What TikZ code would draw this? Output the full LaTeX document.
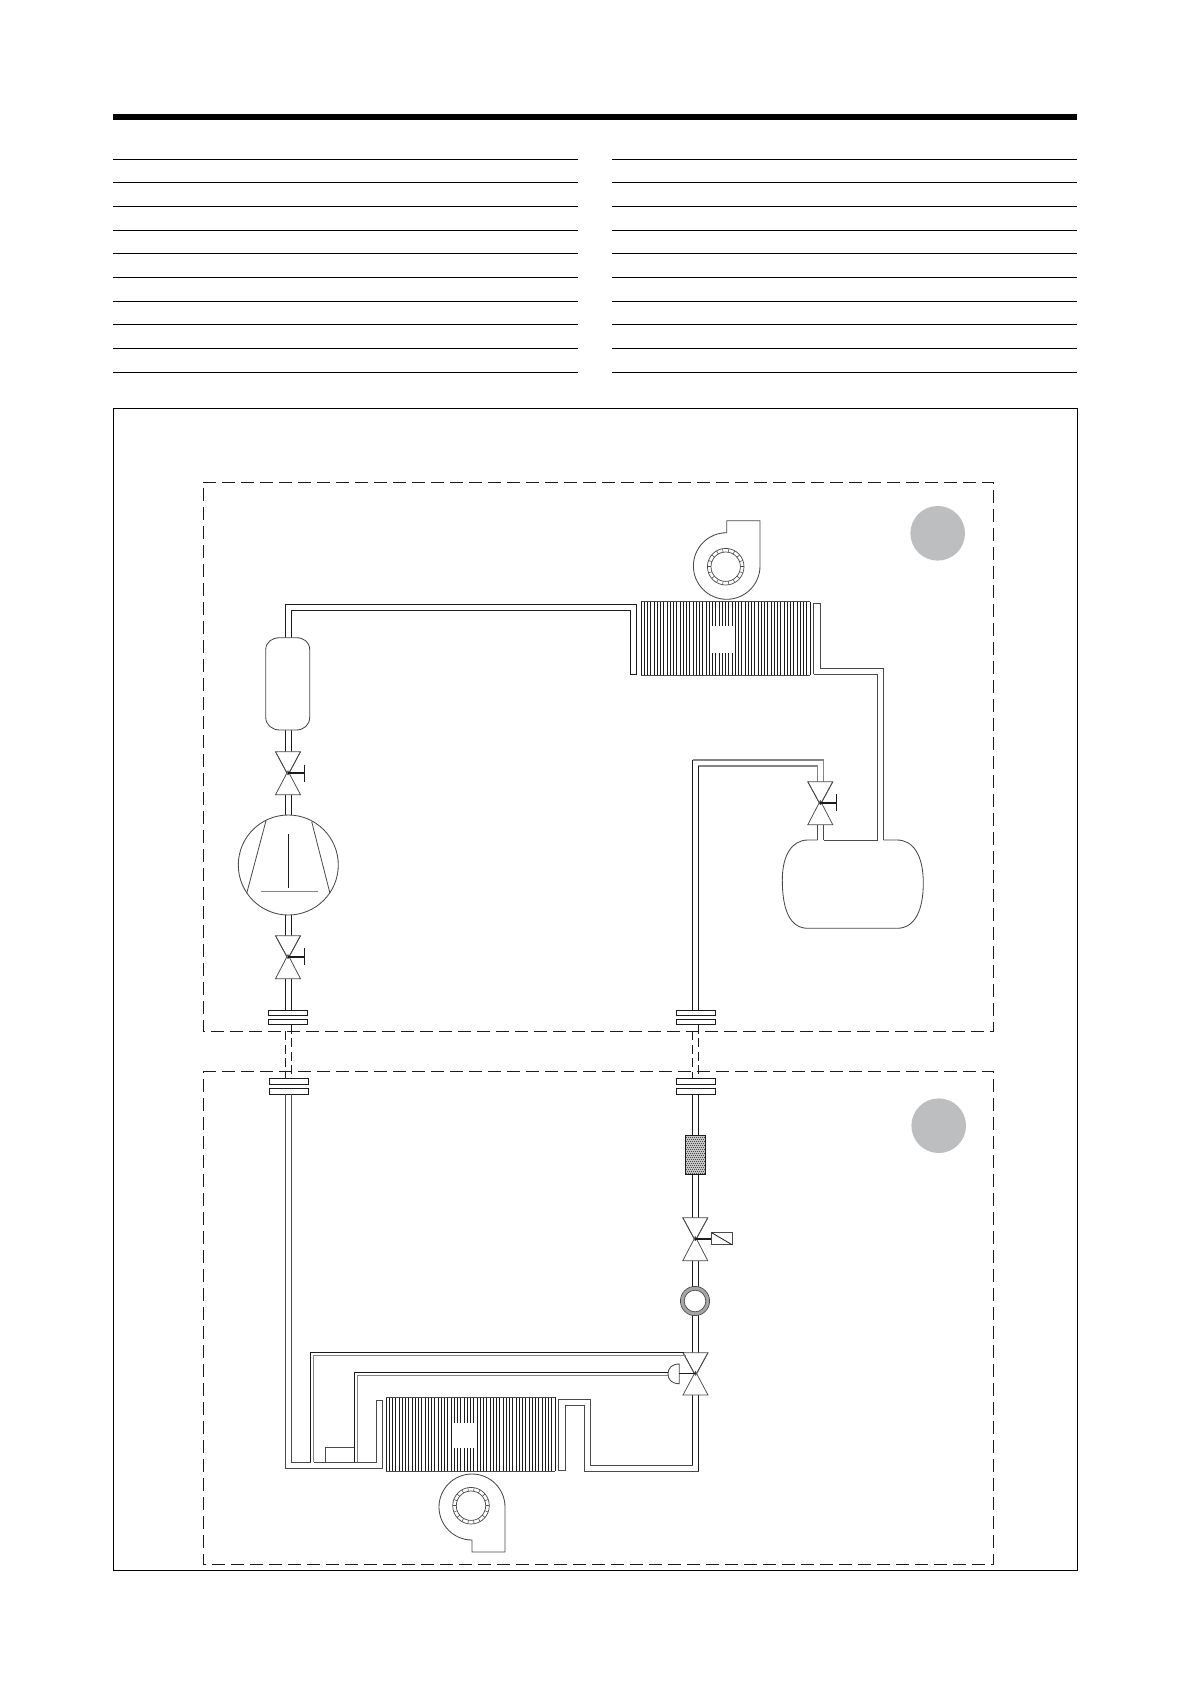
\documentclass[tikz,border=0pt]{standalone}
\definecolor{ink}{HTML}{1C1C1C}
\definecolor{softink}{HTML}{4A4A4A}
\definecolor{midgray}{HTML}{858585}
\definecolor{ringgray}{HTML}{A6A6A6}
\definecolor{zonegray}{HTML}{BCBEC0}
\tikzset{
  tube/.style={draw=ink,line width=0.85pt,line join=miter},
  softtube/.style={draw=softink,line width=0.85pt,line join=miter},
  paletube/.style={draw=midgray,line width=1.05pt,line join=miter},
  thin part/.style={draw=softink,line width=0.75pt},
  zone/.style={draw=ink,line width=1.15pt,dash pattern=on 12.8pt off 6.2pt},
  rulerline/.style={draw=black,line width=1pt},
  flangeplate/.style={draw=ink,line width=0.9pt,fill=white},
  handle/.style={draw=ink,line width=1.9pt},
  stick/.style={draw=ink,line width=0.95pt,dash pattern=on 9pt off 4.5pt}
}
% valve: cx, top, mid, bottom
\newcommand{\valvebody}[4]{%
  \draw[thin part,fill=white,line join=miter] (#1-12.5,#2) -- (#1+12.5,#2) -- (#1,#3+2) -- cycle;
  \draw[thin part,fill=white,line join=miter] (#1-12.5,#4) -- (#1+12.5,#4) -- (#1,#3-2) -- cycle;
  \draw[thin part] (#1-12.5,#2) -- (#1,#3+2) (#1+12.5,#2) -- (#1,#3+2);
}
% hand wheel: cx, mid, end x
\newcommand{\valvehandle}[3]{%
  \draw[handle] (#1,#2) -- (#3,#2);
  \draw[draw=ink,line width=1.1pt] (#3,#2-8.5) -- (#3,#2+8.5);
}
% impeller: cx, cy
\newcommand{\impeller}[2]{%
  \draw[softtube,line width=0.7pt] (#1,#2) circle[radius=18.3];
  \draw[softtube,line width=0.7pt] (#1,#2) circle[radius=14.7];
  \foreach \ang in {0,20,...,340}
    \draw[softink,line width=0.55pt] ({#1+14.7*cos(\ang)},{#2+14.7*sin(\ang)}) -- ({#1+18.3*cos(\ang)},{#2+18.3*sin(\ang)});
}
% coil: x0, y0, x1, y1, hole x0, hole y0, hole x1, hole y1
\newcommand{\coilblock}[8]{%
  \foreach \k in {0,...,52}
    \draw[draw=ink,line width=0.72pt] ({#1+\k*(#3-#1)/52},#2) -- ({#1+\k*(#3-#1)/52},#4);
  \fill[white] (#5,#6) rectangle (#7,#8);
  \draw[softink,line width=0.85pt] (#1,#2) -- (#3,#2) (#1,#4) -- (#3,#4);
}
\begin{document}
\begin{tikzpicture}[x=1pt,y=-1pt]
\useasboundingbox (0,0) rectangle (1190,1684);
\fill[white] (0,0) rectangle (1190,1684);
% header
\fill[black] (113,114) rectangle (1077,120);
\foreach \yy in {159.4,182.4,206.4,230.4,253.4,277.4,301.4,324.4,348.4,372.4}{
  \draw[rulerline] (113,\yy) -- (577.7,\yy);
  \draw[rulerline] (612,\yy) -- (1077,\yy);
}
% frame
\draw[draw=black,line width=1.1pt] (113.5,408.5) rectangle (1077.3,1570.3);
% zones
\draw[zone] (203.3,482.3) -- (993.7,482.3) -- (993.7,1031.3) -- (203.3,1031.3) -- cycle;
\draw[zone] (203.3,1071.3) -- (993.7,1071.3) -- (993.7,1564.3) -- (203.3,1564.3) -- cycle;
\fill[zonegray] (937.7,533.3) circle[radius=27.3];
\fill[zonegray] (938.7,1125.7) circle[radius=27.3];

% ---------- upper unit: hot gas line
\draw[tube] (285.3,637.7) -- (285.3,604.3) -- (636.7,604.3) -- (636.7,674.3) -- (630.7,674.3) -- (630.7,610.3) -- (291.3,610.3) -- (291.3,637.7);
\draw[tube] (285.3,730) -- (285.3,751.7) (291.3,730) -- (291.3,751.7);
\draw[tube] (285.3,794.7) -- (285.3,815) (291.3,794.7) -- (291.3,815);
\draw[tube] (285.3,915) -- (285.3,935.7) (291.3,915) -- (291.3,935.7);
\draw[tube] (285.3,978.7) -- (285.3,1010.3) (291.3,978.7) -- (291.3,1010.3);
% accumulator
\draw[softtube,fill=white] (265.7,650) .. controls (265.7,642) and (272,637.7) .. (280,637.7) -- (296,637.7) .. controls (304,637.7) and (309.7,642) .. (309.7,650) -- (309.7,717) .. controls (309.7,725) and (304,730) .. (296,730) -- (280,730) .. controls (272,730) and (265.7,725) .. (265.7,717) -- cycle;
% compressor
\draw[softtube,fill=white] (288.3,865) circle[radius=50];
\draw[softink,line width=0.8pt] (266,820.7) -- (246.7,893.3) (311.7,821.7) -- (330,893.3);
\draw[ink,line width=0.8pt] (288.3,834.3) -- (288.3,887.7);
\draw[midgray,line width=1.2pt] (260.7,891.7) -- (317.7,891.7);
% valves left
\valvebody{288}{751.7}{773}{794.7}
\valvehandle{288}{773}{304.3}
\valvebody{288}{935.7}{956.7}{978.7}
\valvehandle{288}{956.7}{304.3}

% ---------- upper coil and fan
\coilblock{641}{601.7}{810}{675.3}{710}{625.7}{735}{652.7}
\draw[softtube] (760,566) arc[start angle=0,end angle=270,radius=33.3] -- (726.7,520.7) -- (760,520.7) -- cycle;
\impeller{725.7}{566.7}
% right tube from coil
\draw[softtube] (813.7,674.3) -- (813.7,603.3) -- (820,603.3) -- (820,668.3) -- (883.3,668.3) -- (883.3,840);
\draw[softtube] (813.7,674.3) -- (877.7,674.3) -- (877.7,840);
% receiver
\draw[softtube] (817.7,840) -- (808,840) .. controls (792,840) and (782.3,855) .. (782.3,880) .. controls (782.3,910) and (790,928.3) .. (808,928.3) -- (897,928.3) .. controls (915,928.3) and (923.3,910) .. (923.3,883) .. controls (923.3,855) and (913,840) .. (897,840) -- (883.3,840);
\draw[softtube] (823.7,840) -- (877.7,840);
% liquid line
\draw[paletube] (692.7,760) -- (823.7,760) -- (823.7,781.7);
\draw[paletube] (698.3,766) -- (817.7,766) -- (817.7,781.7);
\draw[tube] (692.7,760) -- (692.7,1010.3) (698.3,766) -- (698.3,1010.3);
\draw[softtube] (817.7,824.7) -- (817.7,840) (823.7,824.7) -- (823.7,840);
\valvebody{820.3}{781.7}{802.7}{824.7}
\valvehandle{820.3}{802.7}{836.7}

% ---------- service joints
\draw[flangeplate] (268.3,1010.3) rectangle (307.3,1015.7);
\draw[flangeplate] (268.3,1019.3) rectangle (307.3,1024.7);
\draw[flangeplate] (269.3,1078.3) rectangle (308.7,1084.7);
\draw[flangeplate] (269.3,1088.3) rectangle (308.7,1094);
\draw[flangeplate] (676.3,1010.3) rectangle (715.7,1015.7);
\draw[flangeplate] (676.3,1019.3) rectangle (715.7,1024.7);
\draw[flangeplate] (676.3,1078.3) rectangle (715.7,1084.7);
\draw[flangeplate] (676.3,1088.3) rectangle (715.7,1094);
\draw[stick] (285.5,1031.3) -- (285.5,1078.3);
\draw[stick] (291.5,1024.7) -- (291.5,1078.3);
\draw[stick] (692.7,1031.3) -- (692.7,1078.3);
\draw[stick] (698.7,1024.7) -- (698.7,1078.3);

% ---------- lower unit: right column
\draw[tube] (692.7,1094) -- (692.7,1135.3) (698.7,1094) -- (698.7,1135.3);
\draw[tube] (692.7,1174.3) -- (692.7,1217.7) (698.7,1174.3) -- (698.7,1217.7);
\draw[tube] (692.7,1260.7) -- (692.7,1287) (698.7,1260.7) -- (698.7,1287);
\draw[tube] (692.7,1315) -- (692.7,1352.7) (698.7,1315) -- (698.7,1352.7);
% filter
\fill[gray!45] (685.3,1135.3) rectangle (705.7,1174.3);
\begin{scope}
\clip (685.3,1135.3) rectangle (705.7,1174.3);
\foreach \rr in {0,...,19}{
  \foreach \cc in {0,...,10}{
    \pgfmathsetmacro{\ox}{685.3+\cc*2+mod(\rr,2)}
    \pgfmathsetmacro{\oy}{1135.3+\rr*2}
    \fill[black!72] (\ox,\oy) rectangle ++(1,1);
  }
}
\end{scope}
\draw[tube,fill=none] (685.3,1135.3) rectangle (705.7,1174.3);
% solenoid valve
\valvebody{695.3}{1217.7}{1238.7}{1260.7}
\draw[handle] (695.3,1238.7) -- (711.7,1238.7);
\draw[softtube,fill=white] (711.7,1232.7) rectangle (732,1244.7);
\draw[ink,line width=0.8pt] (711.7,1232.7) -- (732,1244.7);
% sight glass
\draw[ringgray,line width=3.6pt,fill=white] (695,1301) circle[radius=12.7];
\draw[softink,line width=0.7pt] (695,1301) circle[radius=14.6];
\draw[softink,line width=0.7pt] (695,1301) circle[radius=10.8];
% expansion valve
\draw[tube] (692.7,1395) -- (692.7,1465.7) (698.7,1395) -- (698.7,1471.7);
\valvebody{695.5}{1352.7}{1373.5}{1395}
\draw[softtube,fill=white] (679.3,1364) .. controls (672,1364) and (668,1368) .. (668,1373.8) .. controls (668,1380) and (672,1383.7) .. (679.3,1383.7) -- cycle;
\draw[handle] (679.3,1373.5) -- (695.5,1373.5);
% external equaliser and bulb lines
\draw[tube] (310.7,1462.3) -- (310.7,1352.7) -- (683.5,1352.7);
\draw[paletube] (313.7,1462.3) -- (313.7,1355.7) -- (686,1355.7);
\draw[tube] (354.3,1462.3) -- (354.3,1372.7) -- (668,1372.7);
\draw[paletube] (357.3,1462.3) -- (357.3,1375.7) -- (668,1375.7);
% suction line lower
\draw[softtube] (285.3,1094) -- (285.3,1468.3) -- (382.7,1468.3) -- (382.7,1400.7) -- (376.3,1400.7) -- (376.3,1462.3) -- (313.7,1462.3);
\draw[softtube] (291.7,1094) -- (291.7,1462.3) -- (310.7,1462.3);
\draw[softtube] (325.3,1461.5) -- (325.3,1447.3) -- (354.3,1447.3);
% lower coil and fan
\coilblock{386}{1397.3}{555}{1471.3}{452.7}{1423}{477.3}{1448}
\draw[softtube] (505,1507) -- (505,1552) -- (472,1552) -- (472,1540) arc[start angle=90,end angle=360,radius=33];
\impeller{471}{1505.7}
% right U at lower coil
\draw[softtube] (565,1470.7) -- (558.7,1470.7) -- (558.7,1399.3) -- (590.3,1399.3) -- (590.3,1465.7) -- (692.7,1465.7);
\draw[softtube] (565,1470.7) -- (565,1405.7) -- (584.3,1405.7) -- (584.3,1471.7) -- (698.7,1471.7);
\end{tikzpicture}
\end{document}
